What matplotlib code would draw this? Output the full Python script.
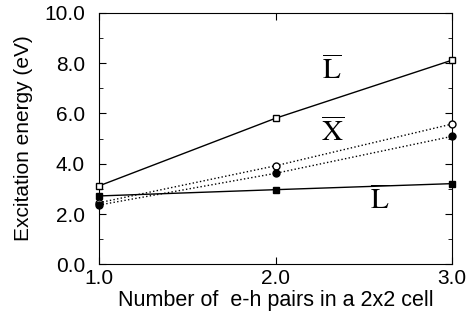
import matplotlib
matplotlib.use("Agg")
import matplotlib.pyplot as plt
from matplotlib.ticker import MultipleLocator, FormatStrFormatter

plt.rcParams['font.family'] = ['Liberation Sans', 'DejaVu Sans']
plt.rcParams['mathtext.fontset'] = 'stix'

pairs = [1.0, 2.0, 3.0]
open_sq = [3.12, 5.81, 8.12]
open_circ = [2.45, 3.92, 5.58]
fill_circ = [2.36, 3.62, 5.09]
fill_sq = [2.72, 2.97, 3.21]

fig = plt.figure(figsize=(4.67, 3.22), dpi=100)
ax = fig.add_axes([0.212, 0.179, 0.756, 0.781])

ax.plot(pairs, open_sq, '-', color='black', lw=1, marker='s', ms=5, mfc='white', mec='black', clip_on=False, zorder=3)
ax.plot(pairs, open_circ, ':', color='black', lw=1, marker='o', ms=5, mfc='white', mec='black', clip_on=False, zorder=3)
ax.plot(pairs, fill_circ, ':', color='black', lw=1, marker='o', ms=5, mfc='black', mec='black', clip_on=False, zorder=3)
ax.plot(pairs, fill_sq, '-', color='black', lw=1, marker='s', ms=5, mfc='black', mec='black', clip_on=False, zorder=3)

ax.text(2.32, 7.7, r'$\overline{\mathrm{L}}$', fontsize=21, ha='center', va='center')
ax.text(2.32, 5.25, r'$\overline{\mathrm{X}}$', fontsize=21, ha='center', va='center')
ax.text(2.59, 2.55, r'$\overline{\mathrm{L}}$', fontsize=21, ha='center', va='center')

ax.set_xlim(1.0, 3.0)
ax.set_ylim(0.0, 10.0)
ax.set_xticks([1.0, 2.0, 3.0])
ax.set_yticks([0, 2, 4, 6, 8, 10])
ax.yaxis.set_minor_locator(MultipleLocator(1.0))
ax.xaxis.set_major_formatter(FormatStrFormatter('%.1f'))
ax.yaxis.set_major_formatter(FormatStrFormatter('%.1f'))
ax.tick_params(which='both', direction='in', top=True, right=True, labelsize=15)
ax.tick_params(axis='y', pad=10)
ax.tick_params(axis='x', pad=3)
ax.tick_params(which='major', length=5)
ax.tick_params(which='minor', length=3)

ax.set_xlabel('Number of  e-h pairs in a 2x2 cell', fontsize=15.5, labelpad=2)
ax.set_ylabel('Excitation energy (eV)', fontsize=15, labelpad=8)

fig.savefig('out.png', dpi=100)
